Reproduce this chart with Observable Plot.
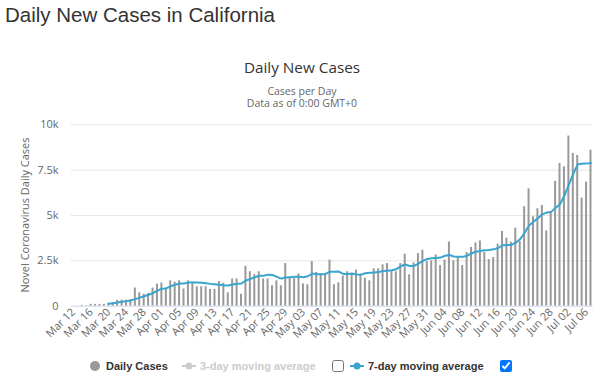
<!DOCTYPE html>
<html>
<head>
<meta charset="utf-8">
<script src="https://cdn.jsdelivr.net/npm/d3@7"></script>
<script src="https://cdn.jsdelivr.net/npm/@observablehq/plot@0.6"></script>
<style>
  body { margin: 0; background: #fff; }
  #wrap { position: relative; width: 600px; height: 386px; overflow: hidden; font-family: "Open Sans", sans-serif; }
  #page-title { position: absolute; left: 5px; top: 4px; margin: 0; font: normal 20.5px/22px "Liberation Sans", Arial, sans-serif; color: #333; white-space: nowrap; }
  #chart-title { position: absolute; left: 2px; width: 600px; top: 58px; text-align: center; font-size: 15.3px; line-height: 18px; color: #333; }
  .sub { position: absolute; left: 2px; width: 600px; text-align: center; font-size: 10.5px; line-height: 11px; color: #666; }
  #plot { position: absolute; left: 0; top: 110px; }
  #ylabel { position: absolute; left: 23.5px; top: 215px; transform: translate(-50%, -50%) rotate(-90deg); font-size: 11px; color: #666; white-space: nowrap; }
  .lg { position: absolute; top: 359px; font-size: 11px; font-weight: bold; line-height: 14px; white-space: nowrap; font-family: "Liberation Sans", Arial, sans-serif; }
  .cb { position: absolute; margin: 0; width: 12px; height: 12px; top: 360px; }
  #legend-svg { position: absolute; left: 0; top: 356px; }
</style>
</head>
<body>
<div id="wrap">
  <h1 id="page-title">Daily New Cases in California</h1>
  <div id="chart-title">Daily New Cases</div>
  <div class="sub" style="top:85.5px">Cases per Day</div>
  <div class="sub" style="top:98px">Data as of 0:00 GMT+0</div>
  <div id="ylabel">Novel Coronavirus Daily Cases</div>
  <div id="plot"></div>
  <svg id="legend-svg" width="600" height="20">
    <circle cx="95" cy="10" r="5" fill="#999"></circle>
    <line x1="182" x2="196" y1="10" y2="10" stroke="#ccc" stroke-width="2"></line>
    <circle cx="189" cy="10" r="3.5" fill="#ccc"></circle>
    <line x1="350" x2="364" y1="10" y2="10" stroke="#39a5cf" stroke-width="2"></line>
    <circle cx="357" cy="10" r="3.5" fill="#39a5cf"></circle>
  </svg>
  <span class="lg" style="left:106px;color:#333">Daily Cases</span>
  <span class="lg" style="left:200px;color:#ccc">3-day moving average</span>
  <input class="cb" type="checkbox" style="left:332px">
  <span class="lg" style="left:368px;color:#333">7-day moving average</span>
  <input class="cb" type="checkbox" checked style="left:500px">
</div>
<script>
// categories: one per day, Mar 12 .. Jul 07 (2020)
const days = d3.utcDay.range(new Date(Date.UTC(2020, 2, 12)), new Date(Date.UTC(2020, 6, 8))).map(d3.utcFormat("%b %d"));

// daily new cases
const dailyCases = [
  0, 0, 50, 20, 100, 100, 100, 100, 170, 200,
  330, 330, 330, 370, 1000, 740, 660, 700, 1000, 1220,
  1280, 1000, 1400, 1330, 1400, 950, 1400, 1320, 1070, 1070,
  1070, 930, 930, 1360, 1260, 740, 1500, 1500, 660, 2200,
  1900, 1740, 1900, 1500, 1500, 1130, 1400, 1130, 2350, 1520,
  1520, 1780, 1230, 1180, 2460, 1860, 1760, 1800, 2540, 1180,
  1290, 1660, 1900, 1760, 1990, 1760, 1540, 1400, 2060, 2060,
  2280, 2350, 1950, 1900, 2350, 2870, 1730, 2390, 2900, 3090,
  2460, 2500, 2830, 2240, 2540, 3540, 2500, 2680, 2240, 2960,
  3240, 3490, 3600, 2960, 2570, 2680, 3420, 4120, 3750, 3530,
  4300, 3570, 5480, 6470, 4930, 5370, 5550, 4150, 5220, 6880,
  7870, 7680, 9380, 8420, 8310, 5960, 6840, 8600
];

// 7-day moving average
const movingAvg7 = [
  null, null, null, null, null, null, null, null, 130, 160,
  200, 240, 280, 320, 390, 470, 550, 630, 720, 860,
  960, 980, 1100, 1180, 1250, 1250, 1300, 1310, 1300, 1290,
  1270, 1230, 1210, 1180, 1150, 1140, 1200, 1240, 1250, 1420,
  1500, 1600, 1680, 1680, 1740, 1720, 1620, 1520, 1580, 1600,
  1620, 1620, 1600, 1650, 1800, 1760, 1760, 1780, 1900, 1900,
  1910, 1780, 1780, 1800, 1750, 1740, 1820, 1850, 1860, 1880,
  1940, 1960, 1980, 2040, 2200, 2300, 2220, 2220, 2350, 2500,
  2600, 2640, 2660, 2680, 2780, 2820, 2740, 2720, 2720, 2780,
  2920, 3000, 3040, 3080, 3100, 3140, 3200, 3360, 3380, 3380,
  3500, 3700, 4050, 4450, 4650, 4850, 5070, 5160, 5200, 5420,
  5620, 6100, 6700, 7300, 7820, 7850, 7860, 7900
];

const xTickLabels = ["Mar 12","Mar 16","Mar 20","Mar 24","Mar 28","Apr 01","Apr 05","Apr 09","Apr 13","Apr 17",
  "Apr 21","Apr 25","Apr 29","May 03","May 07","May 11","May 15","May 19","May 23","May 27","May 31",
  "Jun 04","Jun 08","Jun 12","Jun 16","Jun 20","Jun 24","Jun 28","Jul 02","Jul 06"];
const yTicks = [0, 2500, 5000, 7500, 10000];
const yTickLabels = ["0", "2.5k", "5k", "7.5k", "10k"];

const rows = days.map((day, i) => ({day, cases: dailyCases[i], ma: movingAvg7[i]}));

const chart = Plot.plot({
  width: 600,
  height: 235,
  marginTop: 14.3,
  marginBottom: 39.3,
  marginLeft: 70.7,
  marginRight: 7.3,
  style: {fontFamily: "'Open Sans', sans-serif", fontSize: "11px", color: "#666", background: "transparent"},
  x: {type: "band", domain: days, paddingInner: 0.55, paddingOuter: 0.275, label: null,
      ticks: xTickLabels, tickRotate: -45, tickSize: 0, tickPadding: 4},
  y: {domain: [0, 10000], ticks: yTicks, tickFormat: v => yTickLabels[yTicks.indexOf(v)],
      label: null, tickSize: 0, tickPadding: 12.7},
  marks: [
    Plot.ruleY(yTicks.slice(1), {stroke: "#e6e6e6"}),
    Plot.barY(rows, {x: "day", y: "cases", fill: "#999"}),
    Plot.ruleY([0], {stroke: "#ccd6eb"}),
    Plot.line(rows.filter(d => d.ma != null), {x: "day", y: "ma", stroke: "#39a5cf", strokeWidth: 2})
  ]
});
document.getElementById("plot").appendChild(chart);
</script>
</body>
</html>
